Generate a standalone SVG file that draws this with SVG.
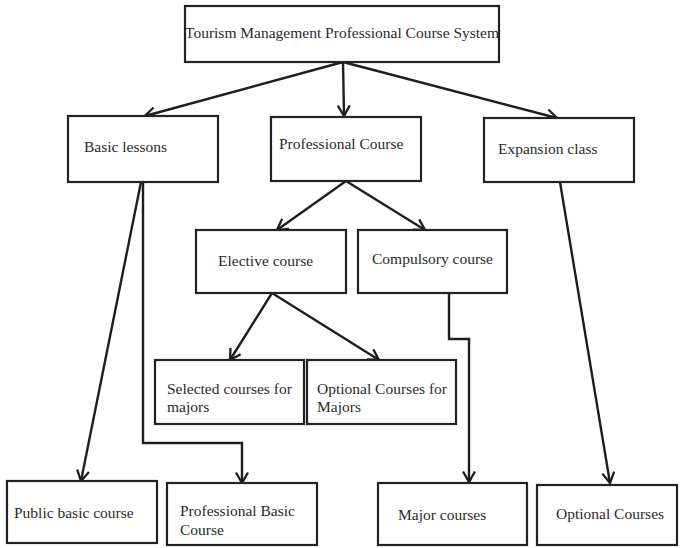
<svg xmlns="http://www.w3.org/2000/svg" width="680" height="548" viewBox="0 0 680 548">
<style>
.box{fill:#fff;stroke:#222;stroke-width:2.2}
.t{font-family:"Liberation Serif","Times New Roman",serif;font-size:15.5px;fill:#2a2a2a}
.c{fill:none;stroke:#1e1e1e;stroke-width:2.4;stroke-linejoin:miter}
</style>
<defs>
<marker id="ah" viewBox="0 0 14 14" markerWidth="14" markerHeight="14" refX="12" refY="7" orient="auto" markerUnits="userSpaceOnUse">
<path d="M1.5,1 L12,7 L1.5,13" fill="none" stroke="#1e1e1e" stroke-width="2.3"/>
</marker>
</defs>
<rect width="680" height="548" fill="#fff"/>
<g id="connectors">
<line class="c" x1="343" y1="62" x2="145" y2="116" marker-end="url(#ah)"/>
<line class="c" x1="343" y1="62" x2="344" y2="116" marker-end="url(#ah)"/>
<line class="c" x1="343" y1="62" x2="557" y2="118" marker-end="url(#ah)"/>
<line class="c" x1="346" y1="181" x2="277" y2="230" marker-end="url(#ah)"/>
<line class="c" x1="346" y1="181" x2="425" y2="230" marker-end="url(#ah)"/>
<line class="c" x1="272" y1="293" x2="230" y2="360" marker-end="url(#ah)"/>
<line class="c" x1="272" y1="293" x2="379" y2="360" marker-end="url(#ah)"/>
<polyline class="c" points="449,293 449,339 469,339 469,482" marker-end="url(#ah)"/>
<line class="c" x1="141" y1="182" x2="81" y2="481" marker-end="url(#ah)"/>
<polyline class="c" points="143,182 143,443 242,443 242,483" marker-end="url(#ah)"/>
<line class="c" x1="560" y1="182" x2="610" y2="483" marker-end="url(#ah)"/>
</g>
<g id="n-root"><rect class="box" x="185" y="6" width="314" height="56"/><text class="t" x="185" y="38">Tourism Management Professional Course System</text></g>
<g id="n-basic"><rect class="box" x="68" y="116" width="150" height="66"/><text class="t" x="84" y="152">Basic lessons</text></g>
<g id="n-prof"><rect class="box" x="271" y="117" width="150" height="64"/><text class="t" x="279" y="149">Professional Course</text></g>
<g id="n-exp"><rect class="box" x="484" y="118" width="150" height="64"/><text class="t" x="498" y="154">Expansion class</text></g>
<g id="n-elective"><rect class="box" x="196" y="230" width="150" height="63"/><text class="t" x="218" y="266">Elective course</text></g>
<g id="n-compulsory"><rect class="box" x="358" y="230" width="149" height="63"/><text class="t" x="372" y="264">Compulsory course</text></g>
<g id="n-selected"><rect class="box" x="155" y="360" width="149" height="64"/><text class="t" x="167" y="394">Selected courses for</text><text class="t" x="167" y="412">majors</text></g>
<g id="n-optmajors"><rect class="box" x="307" y="360" width="149" height="64"/><text class="t" x="317" y="394">Optional Courses for</text><text class="t" x="317" y="412">Majors</text></g>
<g id="n-public"><rect class="box" x="7" y="481" width="150" height="62"/><text class="t" x="14" y="518">Public basic course</text></g>
<g id="n-profbasic"><rect class="box" x="167" y="483" width="150" height="62"/><text class="t" x="180" y="516">Professional Basic</text><text class="t" x="180" y="535">Course</text></g>
<g id="n-major"><rect class="box" x="378" y="483" width="149" height="62"/><text class="t" x="398" y="520">Major courses</text></g>
<g id="n-optional"><rect class="box" x="537" y="485" width="140" height="60"/><text class="t" x="556" y="519">Optional Courses</text></g>
</svg>
